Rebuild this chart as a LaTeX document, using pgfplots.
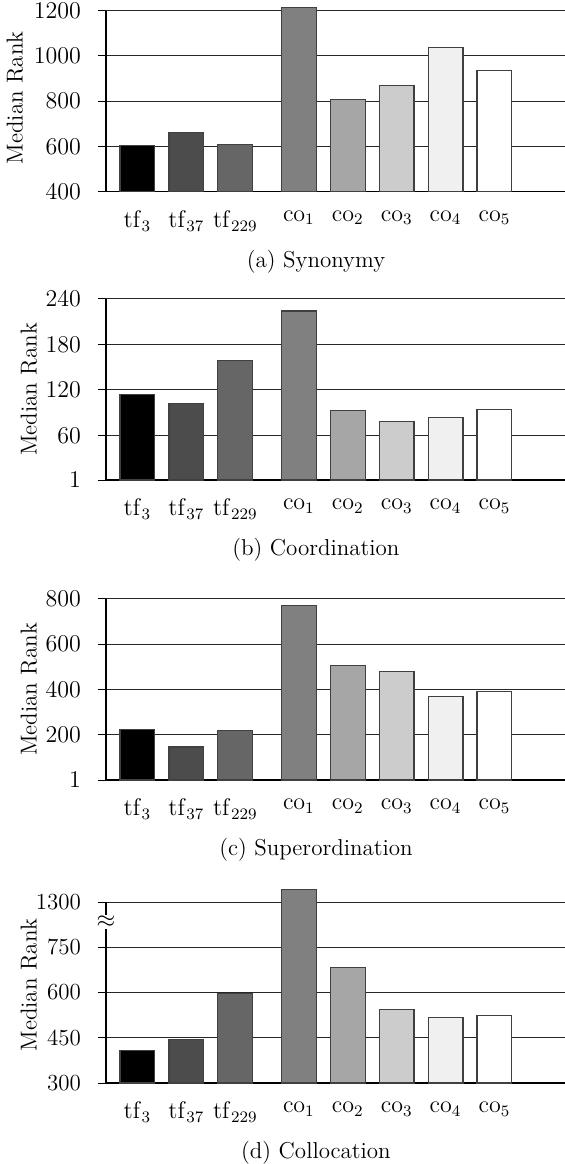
\documentclass[border=0pt]{standalone}
\usepackage{pgfplots}
\pgfplotsset{compat=1.18}
\usetikzlibrary{calc}

\newcommand{\lbl}{\fontsize{11.5}{13.5}\selectfont}
\pgfplotsset{
  rankaxis/.style={
    scale only axis, width=229.5pt,
    ybar, bar width=17.4pt, bar shift=0pt,
    xmin=-0.644, xmax=8.742,
    xtick={0,1,2,3.3,4.3,5.3,6.3,7.3},
    xticklabels={$\mathrm{tf}_{3}$,$\mathrm{tf}_{37}$,$\mathrm{tf}_{229}$,$\mathrm{co}_{1}$,$\mathrm{co}_{2}$,$\mathrm{co}_{3}$,$\mathrm{co}_{4}$,$\mathrm{co}_{5}$},
    axis x line*=bottom, axis y line*=left,
    x axis line style={-, black, line width=0.6pt},
    xtick style={draw=none},
    ytick style={black, line width=0.5pt},
    tick align=outside, major tick length=4pt,
    ymajorgrids, grid style={black!85, line width=0.5pt},
    /pgf/number format/1000 sep={},
    tick label style={font=\lbl},
    yticklabel style={xshift=-5pt},
    xticklabel style={yshift=-2pt},
    label style={font=\lbl},
    ylabel={Median Rank},
    ylabelx/.initial=-38.5pt,
    ylabel style={at={($(rel axis cs:0,0.5)+(\pgfkeysvalueof{/pgfplots/ylabelx},0)$)}, anchor=center},
    xlabel style={yshift=-2.5pt, xshift=-9.75pt},
    every axis plot/.append style={draw=black!75, line width=0.6pt},
    anchor=south west,
  },
}
\newcommand{\rankbars}[8]{%
  \addplot[fill=black] coordinates {(0,#1)};
  \addplot[fill=black!70] coordinates {(1,#2)};
  \addplot[fill=black!60] coordinates {(2,#3)};
  \addplot[fill=black!50] coordinates {(3.3,#4)};
  \addplot[fill=black!35] coordinates {(4.3,#5)};
  \addplot[fill=black!20] coordinates {(5.3,#6)};
  \addplot[fill=black!6] coordinates {(6.3,#7)};
  \addplot[fill=white] coordinates {(7.3,#8)};
}

\begin{document}
\begin{tikzpicture}
\useasboundingbox (-53pt,-486.15pt) rectangle (229.5pt,95.85pt);
% (a) Synonymy
\begin{axis}[rankaxis, at={(0pt,0pt)},
  height=93.9pt, ymin=400, ymax=1230,
  ytick={400,600,800,1000,1200},
  y axis line style={-, black, line width=0.6pt, shorten >=3.39pt},
  ylabelx=-45.5pt,
  xlabel={(a) Synonymy}]
\rankbars{605}{662}{608}{1215}{808}{868}{1036}{935}
\end{axis}
% (b) Coordination
\begin{axis}[rankaxis, at={(0pt,-144.15pt)},
  height=90.6pt, ymin=1, ymax=240,
  ytick={1,60,120,180,240},
  y axis line style={-, black, line width=0.6pt},
  xlabel={(b) Coordination}]
\rankbars{113.4}{101.9}{158.4}{224}{92.6}{78.5}{83.8}{93.5}
\end{axis}
% (c) Superordination
\begin{axis}[rankaxis, at={(0pt,-294.15pt)},
  height=90.6pt, ymin=1, ymax=800,
  ytick={1,200,400,600,800},
  y axis line style={-, black, line width=0.6pt},
  xlabel={(c) Superordination}]
\rankbars{225}{147}{218}{772}{506}{479}{368}{393}
\end{axis}
% (d) Collocation, broken axis: 900 stands for 1300
\begin{axis}[rankaxis, at={(0pt,-445.65pt)},
  height=98.04pt, ymin=300, ymax=950,
  ytick={300,450,600,750,900},
  yticklabels={300,450,600,750,1300},
  y axis line style={-, black, line width=0.6pt, shorten >=7.54pt},
  xlabel={(d) Collocation}]
\rankbars{407}{443}{598}{941}{683}{543}{518}{524}
\coordinate (brk) at (axis cs:-0.644,834);
\end{axis}
\node[fill=white, inner sep=0.4pt, font=\lbl] at (brk) {$\approx$};
\end{tikzpicture}
\end{document}
